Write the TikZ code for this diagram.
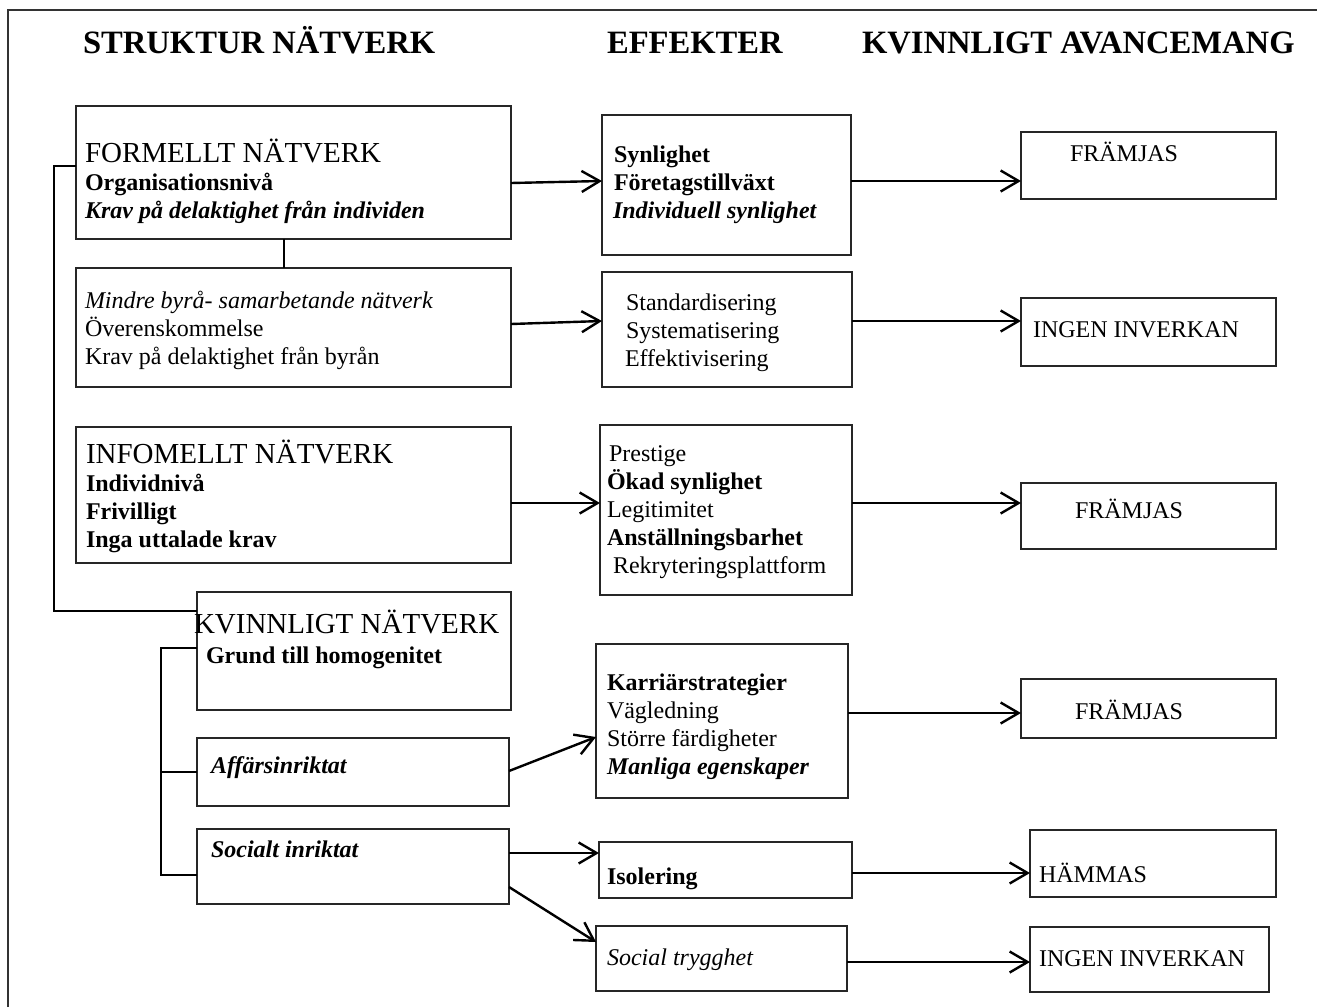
\documentclass[tikz,border=0pt]{standalone}
\usepackage{fontspec}
\setmainfont{Liberation Serif}
\usetikzlibrary{arrows.meta}

% stacked lines: the block's baseline is that of its first line
\newcommand\tblock[1]{\vtop{\baselineskip=28pt\lineskiplimit=-100pt\lineskip=0pt #1}}
\newcommand\hdfont{\fontsize{29}{33}\selectfont}
\newcommand\ttlfont{\fontsize{32.6}{36}\selectfont\bfseries}

\begin{document}
\begin{tikzpicture}[x=1pt, y=-1pt,
  box/.style={draw=black!85, line width=1.3pt, inner sep=0pt, outer sep=0pt,
              anchor=north west},
  txt/.style={anchor=base west, inner sep=0pt, outer sep=0pt,
              font=\fontsize{24}{28}\selectfont},
  ttl/.style={anchor=base west, inner sep=0pt, outer sep=0pt, font=\ttlfont},
  link/.style={line width=2pt, black},
  arr/.style={line width=2.4pt, black,
              -{Straight Barb[length=18pt, width=21pt]}},
  frame/.style={line width=2pt, black!80}
]
\useasboundingbox (0,0) rectangle (1317,1007);

% page frame
\draw[frame] (7.5,1007) -- (7.5,9.5) -- (1317,9.5);

% column headings
\node[ttl] (h1) at (83,53) {STRUKTUR NÄTVERK};
\node[ttl] (h2) at (607,53) {EFFEKTER};
\node[ttl] (h3) at (862,53) {KVINNLIGT AVANCEMANG};

% ---- network structure boxes
\node[box, minimum width=435, minimum height=133] (formellt) at (76,106) {};
\node[box, minimum width=435, minimum height=119] (mindre)   at (76,268) {};
\node[box, minimum width=435, minimum height=136] (inform)   at (76,427) {};
\node[box, minimum width=314, minimum height=118] (kvinn)    at (197,592) {};
\node[box, minimum width=312, minimum height=68]  (affars)   at (197,738) {};
\node[box, minimum width=312, minimum height=75]  (social)   at (197,829) {};

% ---- effect boxes
\node[box, minimum width=249, minimum height=140] (synl)  at (602,115) {};
\node[box, minimum width=250, minimum height=115] (stand) at (602,272) {};
\node[box, minimum width=252, minimum height=170] (prest) at (600,425) {};
\node[box, minimum width=252, minimum height=154] (karr)  at (596,644) {};
\node[box, minimum width=253, minimum height=56]  (isol)  at (599,842) {};
\node[box, minimum width=251, minimum height=65]  (trygg) at (596,926) {};

% ---- outcome boxes
\node[box, minimum width=255, minimum height=67] (fr1)  at (1021,132) {};
\node[box, minimum width=255, minimum height=68] (ing1) at (1021,298) {};
\node[box, minimum width=255, minimum height=66] (fr2)  at (1021,483) {};
\node[box, minimum width=255, minimum height=59] (fr3)  at (1021,679) {};
\node[box, minimum width=246, minimum height=67] (hamm) at (1030,830) {};
\node[box, minimum width=239, minimum height=65] (ing2) at (1030,927) {};

% ---- texts of the structure boxes
\node[txt] (formellt-t) at (85,162) {\tblock{%
  \hbox{\hdfont FORMELLT NÄTVERK}
  \hbox{\bfseries Organisationsnivå}
  \hbox{\bfseries\itshape Krav på delaktighet från individen}}};
\node[txt] (mindre-t) at (85,308) {\tblock{%
  \hbox{\itshape Mindre byrå- samarbetande nätverk}
  \hbox{Överenskommelse}
  \hbox{Krav på delaktighet från byrån}}};
\node[txt] (inform-t) at (86,463) {\tblock{%
  \hbox{\hdfont INFOMELLT NÄTVERK}
  \hbox{\bfseries Individnivå}
  \hbox{\bfseries Frivilligt}
  \hbox{\bfseries Inga uttalade krav}}};
\node[txt] (kvinn-t) at (194,633) {\tblock{%
  \hbox{\hdfont KVINNLIGT NÄTVERK}
  \vskip2pt
  \hbox{\kern12pt\bfseries Grund till homogenitet}}};
\node[txt] (affars-t) at (211,773) {\bfseries\itshape Affärsinriktat};
\node[txt] (social-t) at (211,857) {\bfseries\itshape Socialt inriktat};

% ---- texts of the effect boxes
\node[txt] (synl-t) at (613,162) {\tblock{%
  \hbox{\kern1pt\bfseries Synlighet}
  \hbox{\kern1pt\bfseries Företagstillväxt}
  \hbox{\bfseries\itshape Individuell synlighet}}};
\node[txt] (stand-t) at (625,310) {\tblock{%
  \hbox{\kern1pt Standardisering}
  \hbox{\kern1pt Systematisering}
  \hbox{Effektivisering}}};
\node[txt] (prest-t) at (607,461) {\tblock{%
  \hbox{\kern2pt Prestige}
  \hbox{\bfseries Ökad synlighet}
  \hbox{Legitimitet}
  \hbox{\bfseries Anställningsbarhet}
  \hbox{\kern6pt Rekryteringsplattform}}};
\node[txt] (karr-t) at (607,690) {\tblock{%
  \hbox{\bfseries Karriärstrategier}
  \hbox{Vägledning}
  \hbox{Större färdigheter}
  \hbox{\bfseries\itshape Manliga egenskaper}}};
\node[txt] (isol-t)  at (607,884) {\bfseries Isolering};
\node[txt] (trygg-t) at (607,965) {\itshape Social trygghet};

% ---- texts of the outcome boxes
\node[txt] (fr1-t)  at (1070,161) {FRÄMJAS};
\node[txt] (ing1-t) at (1033,337) {INGEN INVERKAN};
\node[txt] (fr2-t)  at (1075,518) {FRÄMJAS};
\node[txt] (fr3-t)  at (1075,719) {FRÄMJAS};
\node[txt] (hamm-t) at (1039,882) {HÄMMAS};
\node[txt] (ing2-t) at (1039,966) {INGEN INVERKAN};

% ---- tree links on the left
\draw[link] (formellt.south -| 284,0) -- (mindre.north -| 284,0);
\draw[link] (formellt.west |- 0,166) -| (54,611) -- (kvinn.west |- 0,611);
\draw[link] (kvinn.west |- 0,648) -| (161,875) -- (social.west |- 0,875);
\draw[link] (161,772) -- (affars.west |- 0,772);

% ---- structure -> effect
\draw[arr] (formellt.east |- 0,183) -- (synl.west |- 0,181);
\draw[arr] (mindre.east |- 0,324) -- (stand.west |- 0,321);
\draw[arr] (inform.east |- 0,503) -- (prest.west |- 0,503);
\draw[arr] (affars.east |- 0,771) -- (karr.west |- 0,737);
\draw[arr] (social.east |- 0,853) -- (isol.west |- 0,853);
\draw[arr] (social.east |- 0,887) -- (trygg.west |- 0,942);

% ---- effect -> outcome
\draw[arr] (synl.east |- 0,181)  -- (fr1.west |- 0,181);
\draw[arr] (stand.east |- 0,321) -- (ing1.west |- 0,321);
\draw[arr] (prest.east |- 0,503) -- (fr2.west |- 0,503);
\draw[arr] (karr.east |- 0,713)  -- (fr3.west |- 0,713);
\draw[arr] (isol.east |- 0,873)  -- (hamm.west |- 0,873);
\draw[arr] (trygg.east |- 0,962) -- (ing2.west |- 0,962);
\end{tikzpicture}
\end{document}
